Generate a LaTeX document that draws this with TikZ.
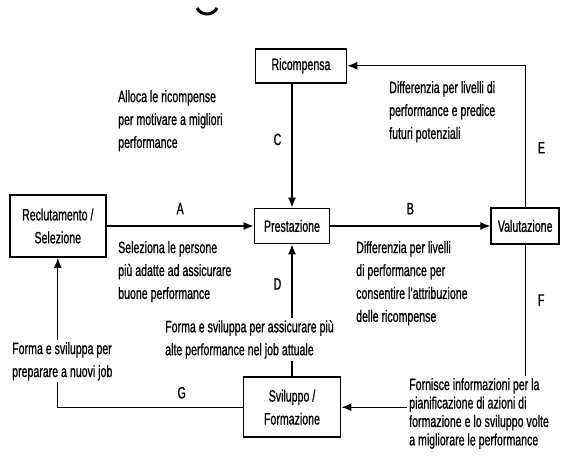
\documentclass[tikz,border=0pt]{standalone}
\usepackage{fontspec}
\setmainfont{Liberation Sans}[FakeStretch=0.645, FakeBold=0.8]
\usetikzlibrary{positioning,arrows.meta}
\tikzset{
    box/.style = {
        draw,
        line width=1.7bp,
        align=center,
        inner sep=2bp,
        },
    flow/.style = {
        draw,
        line width=1.4bp,
        -{Latex[length=10bp,width=8bp]},
        },
    note/.style = {
        align=left,
        anchor=north west,
        inner sep=2bp,
        fill=white,
        },
    lbl/.style = {
        inner sep=2bp,
        },
    tight/.style = {
        font=\fontsize{16.5}{18.5}\selectfont,
        },
}

\begin{document}
\begin{tikzpicture}[x=1bp, y=-1bp, font=\fontsize{16.5}{23}\selectfont]
            \useasboundingbox (0,0) rectangle (562,457);
            \draw[line width=3bp] (197,8) .. controls (201,16) and (213,16) .. (217,8);

            \node[box, minimum width=75bp, minimum height=35bp] (prest) at (292,226) {Prestazione};
            \node[box, minimum width=96bp, minimum height=62bp, left=147bp of prest] (recl) {Reclutamento /\\Selezione};
            \node[box, minimum width=68bp, minimum height=36bp, right=160bp of prest] (valut) {Valutazione};
            \node[box, minimum width=91bp, minimum height=34bp, above=124bp of prest, xshift=9bp] (ric) {Ricompensa};
            \node[box, minimum width=97bp, minimum height=60bp, below=132bp of prest] (svil) {Sviluppo /\\Formazione};

            \path (recl) edge[flow] node[lbl, above=9bp] {A} (prest);
            \path (prest) edge[flow] node[lbl, above=9bp] {B} (valut);
            \path (ric.south -| prest.north) edge[flow] node[lbl, left=8bp, pos=0.45] {C} (prest.north);
            \path (svil) edge[flow] node[lbl, left=8bp, pos=0.7] {D} (prest);
            \draw[flow] (valut) |- node[lbl, right=10bp, pos=0.21] {E} (ric);
            \draw[flow] (valut) |- node[lbl, right=10bp, pos=0.17] {F} (svil);
            \draw[flow] (svil) -| node[lbl, above=6bp, pos=0.165] {G} (recl);

            \node[note] (alloca) at (116,88) {Alloca le ricompense\\per motivare a migliori\\performance};
            \node[note] (diffE) at (387,79) {Differenzia per livelli di\\performance e predice\\futuri potenziali};
            \node[note] (selez) at (116,239) {Seleziona le persone\\più adatte ad assicurare\\buone performance};
            \node[note] (diffB) at (354,239) {Differenzia per livelli\\di performance per\\consentire l'attribuzione\\delle ricompense};
            \node[note] (formaD) at (163,318) {Forma e sviluppa per assicurare più\\alte performance nel job attuale};
            \node[note] (formaG) at (10,340) {Forma e sviluppa per\\preparare a nuovi job};
            \node[note, tight] (fornisce) at (407,376) {Fornisce informazioni per la\\pianificazione di azioni di\\formazione e lo sviluppo volte\\a migliorare le performance};
        \end{tikzpicture}
\end{document}
